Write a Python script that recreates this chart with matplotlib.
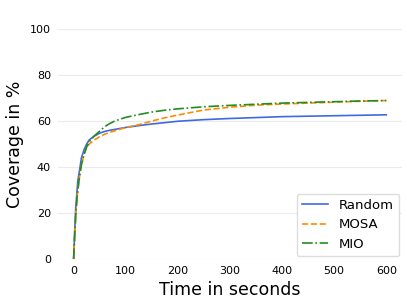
import matplotlib
matplotlib.use("Agg")
import matplotlib.pyplot as plt

# time points (seconds)
t = [0, 2, 4, 6, 8, 12, 15, 20, 25, 30, 40, 50, 60, 70, 80, 100, 125, 150, 175,
     200, 250, 300, 350, 400, 450, 500, 550, 600]

random_cov = [0, 12, 22, 28, 34, 39.5, 44, 47.5, 50, 51.8, 53.5, 54.7, 55.5,
              56.0, 56.4, 57.2, 58.0, 58.7, 59.3, 59.9, 60.6, 61.1, 61.5, 61.9,
              62.1, 62.3, 62.5, 62.7]
mosa_cov = [0, 10, 19, 25, 30, 37, 41, 45.5, 48.5, 50, 51.8, 53.2, 54.3, 55.1,
            55.8, 57.2, 58.4, 60.0, 61.4, 62.6, 64.8, 66.0, 66.9, 67.4, 67.8,
            68.2, 68.6, 68.9]
mio_cov = [0, 10, 19, 25, 30, 37, 41, 45.5, 48.7, 51, 53.6, 55.6, 57.6, 59.0,
           60.1, 61.6, 62.8, 63.9, 64.7, 65.3, 66.2, 66.8, 67.3, 67.8, 68.1,
           68.4, 68.7, 68.9]

fig = plt.figure(figsize=(4.07, 3.07), dpi=100)
ax = fig.add_axes([0.1425, 0.1564, 0.845, 0.749])

ax.plot(t, random_cov, color="#4169e1", lw=1.2, label="Random")
ax.plot(t, mosa_cov, color="#ff8c00", lw=1.2, ls="--", label="MOSA")
ax.plot(t, mio_cov, color="#228b22", lw=1.2, ls="-.", label="MIO")

ax.set_ylim(0, 100)
ax.set_xlim(-30, 630)
ax.set_xticks([0, 100, 200, 300, 400, 500, 600])
ax.set_yticks([0, 20, 40, 60, 80, 100])
ax.tick_params(length=0, labelsize=8, pad=5)
ax.yaxis.grid(True, color="#ebebeb", lw=0.8)
ax.set_axisbelow(True)
for s in ax.spines.values():
    s.set_visible(False)

ax.set_xlabel("Time in seconds", fontsize=12.5)
ax.set_ylabel("Coverage in %", fontsize=12.5)

ax.legend(loc="lower right", fontsize=9.5, frameon=True, framealpha=1,
          edgecolor="#dddddd", fancybox=True, borderaxespad=0.2)

fig.savefig("out.png", dpi=100)
